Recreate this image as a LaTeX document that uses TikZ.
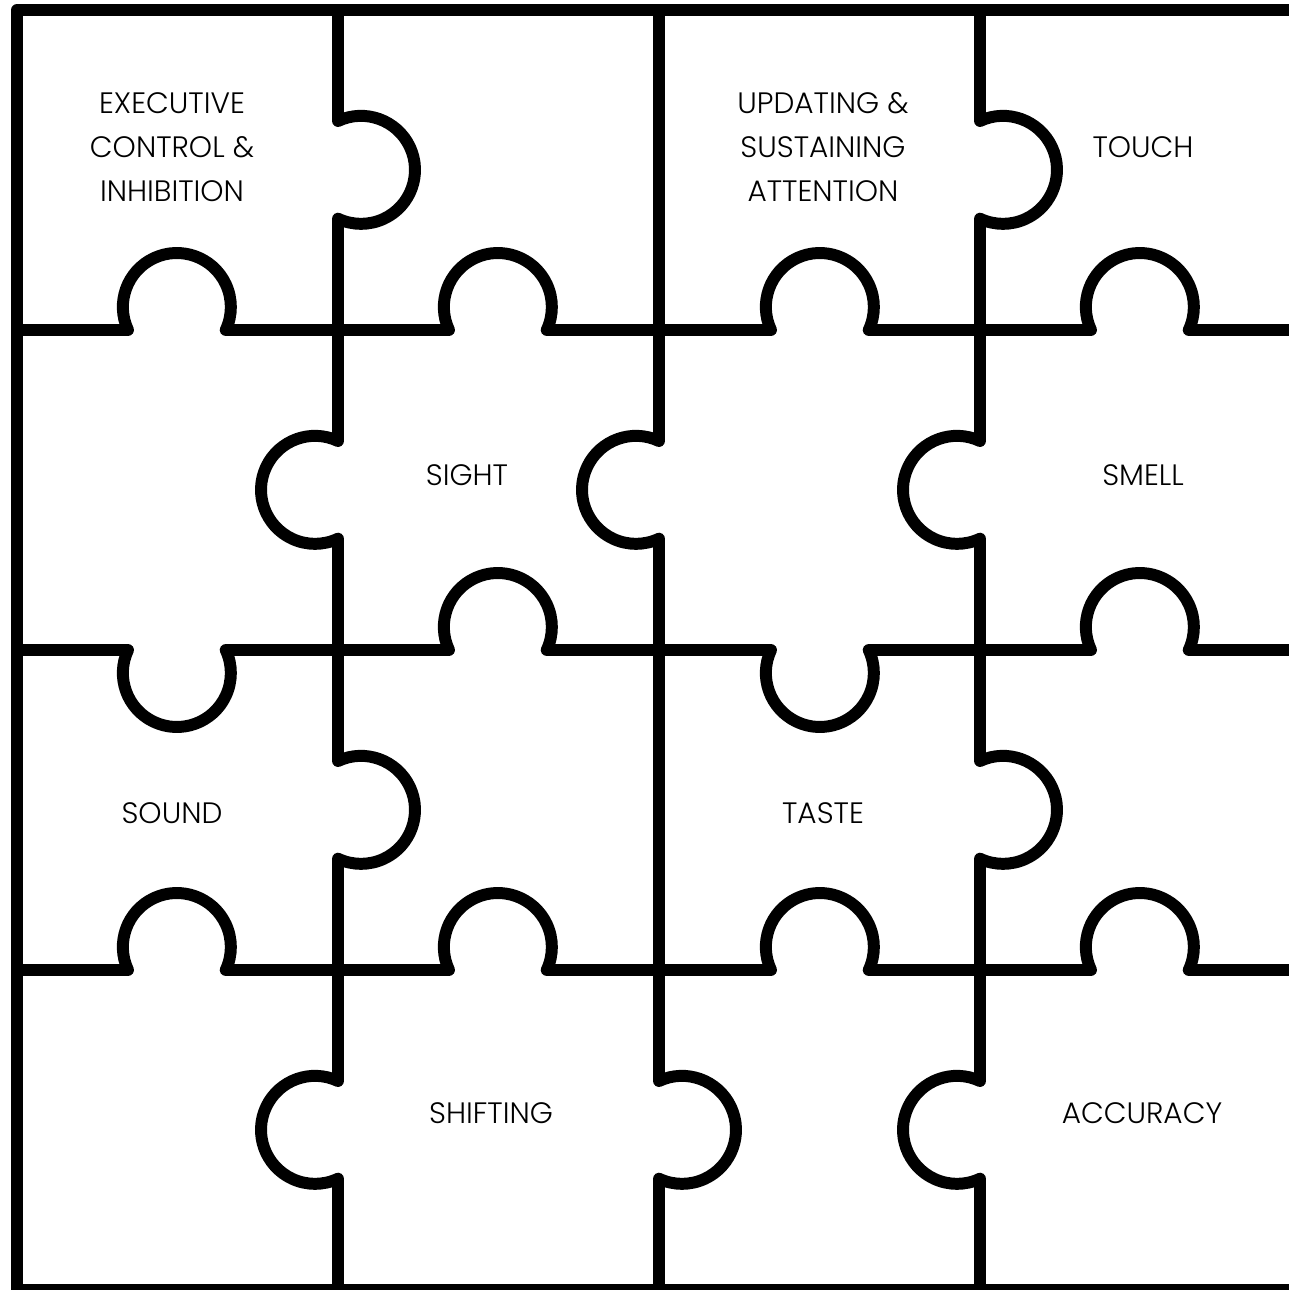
\documentclass[tikz,border=0pt]{standalone}
\usepackage{fontspec}
\setmainfont{Poppins}[UprightFont=* Light]
\usepackage{tikz}

\begin{document}
\begin{tikzpicture}[
  x=0.01cm, y=0.01cm,
  puzzle/.style={line width=3.4pt, line cap=round, line join=round},
  piecetext/.style={font=\fontsize{8.4}{12.5}\selectfont, align=center, inner sep=0pt},
  tabup/.style={start angle=205.2, end angle=-25.2, radius=54},
  tabdown/.style={start angle=154.8, end angle=385.2, radius=54},
  tabright/.style={start angle=115.2, end angle=-115.2, radius=54},
  tableft/.style={start angle=64.8, end angle=295.2, radius=54}
]
\useasboundingbox (0,0) rectangle (1289,1290);
\clip (0,0) rectangle (1289,1290);

% outer border
\draw[puzzle] (1320,1280) -- (17,1280) -- (17,0) -- (1320,0);

% horizontal seams
\draw[puzzle] (17,960) -- (128,960) arc[tabup] -- (449,960) arc[tabup]
  -- (771,960) arc[tabup] -- (1091,960) arc[tabup] -- (1320,960);
\draw[puzzle] (17,640) -- (128,640) arc[tabdown] -- (449,640) arc[tabup]
  -- (771,640) arc[tabdown] -- (1091,640) arc[tabup] -- (1320,640);
\draw[puzzle] (17,320) -- (128,320) arc[tabup] -- (449,320) arc[tabup]
  -- (771,320) arc[tabup] -- (1091,320) arc[tabup] -- (1320,320);

% vertical seams
\draw[puzzle] (338,1280) -- (338,1169) arc[tabright] -- (338,849) arc[tableft]
  -- (338,529) arc[tabright] -- (338,209) arc[tableft] -- (338,0);
\draw[puzzle] (659,1280) -- (659,849) arc[tableft] -- (659,209) arc[tabright] -- (659,0);
\draw[puzzle] (980,1280) -- (980,1169) arc[tabright] -- (980,849) arc[tableft]
  -- (980,529) arc[tabright] -- (980,209) arc[tableft] -- (980,0);

% labels
\node[piecetext] (exec) at (172,1143) {EXECUTIVE\\CONTROL \&\\INHIBITION};
\node[piecetext] (updating) at (823,1143) {UPDATING \&\\SUSTAINING\\ATTENTION};
\node[piecetext] (touch) at (1143,1143) {TOUCH};
\node[piecetext] (sight) at (467,815) {SIGHT};
\node[piecetext] (smell) at (1143,815) {SMELL};
\node[piecetext] (sound) at (172,477) {SOUND};
\node[piecetext] (taste) at (823,477) {TASTE};
\node[piecetext] (shifting) at (491,177) {SHIFTING};
\node[piecetext] (accuracy) at (1142,177) {ACCURACY};
\end{tikzpicture}
\end{document}
